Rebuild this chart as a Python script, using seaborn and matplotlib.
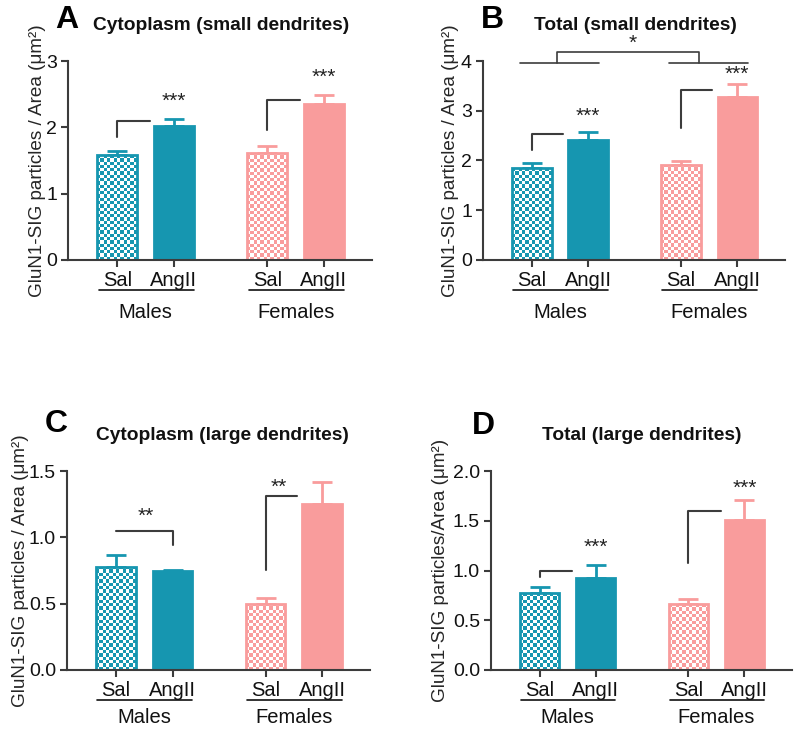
import numpy as np
import pandas as pd
import matplotlib
matplotlib.use("Agg")
import matplotlib.pyplot as plt
import seaborn as sns
from matplotlib.colors import ListedColormap
from matplotlib.transforms import blended_transform_factory

# ---------------- data ----------------
sexes = ["Males", "Females"]
treatments = ["Sal", "AngII"]
letters = ["A", "B", "C", "D"]
titles = ["Cytoplasm (small dendrites)", "Total (small dendrites)",
          "Cytoplasm (large dendrites)", "Total (large dendrites)"]
ylabels = ["GluN1-SIG particles / Area (\u03bcm\u00b2)",
           "GluN1-SIG particles / Area (\u03bcm\u00b2)",
           "GluN1-SIG particles / Area (\u03bcm\u00b2)",
           "GluN1-SIG particles/Area (\u03bcm\u00b2)"]

# order: Males-Sal, Males-AngII, Females-Sal, Females-AngII
a_mean = [1.58, 2.02, 1.62, 2.35]
a_sem = [0.07, 0.11, 0.10, 0.13]
b_mean = [1.84, 2.41, 1.91, 3.28]
b_sem = [0.10, 0.17, 0.08, 0.25]
c_mean = [0.78, 0.75, 0.50, 1.25]
c_sem = [0.09, 0.006, 0.04, 0.17]
d_mean = [0.77, 0.92, 0.66, 1.51]
d_sem = [0.06, 0.14, 0.05, 0.20]

a_ticks = [0, 1, 2, 3]
b_ticks = [0, 1, 2, 3, 4]
c_ticks = [0.0, 0.5, 1.0, 1.5]
d_ticks = [0.0, 0.5, 1.0, 1.5, 2.0]

# significance annotations: (group, x offsets, y values, star text, star x offset, star y)
a_sig = [(0, [0, 0, 0.58], [1.86, 2.10, 2.10], "***", 1.0, 2.39),
         (1, [0, 0, 0.58], [1.96, 2.41, 2.41], "***", 1.0, 2.75)]
b_sig = [(0, [0, 0, 0.55], [2.21, 2.53, 2.53], "***", 1.0, 2.88),
         (1, [0, 0, 0.55], [2.66, 3.41, 3.41], "***", 1.0, 3.74)]
c_sig = [(0, [0, 1, 1], [1.05, 1.05, 0.94], "**", 0.53, 1.16),
         (1, [0, 0, 0.56], [0.755, 1.31, 1.31], "**", 0.23, 1.38)]
d_sig = [(0, [0, 0, 0.58], [0.93, 1.00, 1.00], "***", 1.0, 1.23),
         (1, [0, 0, 0.59], [1.08, 1.60, 1.60], "***", 1.0, 1.83)]
# sex main-effect bracket in panel B
b_top_y = [3.95, 4.19]

# ---------------- style ----------------
sns.set_style("ticks")
plt.rcParams["font.family"] = ["Liberation Sans", "DejaVu Sans"]
TEAL = "#1696B0"
PINK = "#F99C9C"
AXC = "#3c3c3c"
GAP = 2.65
palette = {"Males": TEAL, "Females": PINK}

fig = plt.figure(figsize=(8, 7.35), dpi=100)
W, H = 800, 735

def ax_rect(left, right, top, bottom):
    return [left / W, 1 - bottom / H, (right - left) / W, (bottom - top) / H]

rects = [ax_rect(68, 372, 61, 260), ax_rect(483, 785, 61, 260),
         ax_rect(67, 370, 471, 670), ax_rect(491, 792, 471, 670)]
means = [a_mean, b_mean, c_mean, d_mean]
sems = [a_sem, b_sem, c_sem, d_sem]
ticks = [a_ticks, b_ticks, c_ticks, d_ticks]
sigs = [a_sig, b_sig, c_sig, d_sig]
ylab_x = [-0.099, -0.109, -0.155, -0.168]
grp_lab_y = [-0.266, -0.266, -0.241, -0.241]
title_pos = [(221, 26), (635, 26), (222, 435), (642, 435)]
letter_pos = [(67, 20), (492, 20), (56, 424), (483, 426)]

positions = [g * GAP + t for g in range(2) for t in range(2)]
sex_col = [s for s in sexes for _ in treatments]
treat_col = [t for _ in sexes for t in treatments]

cell_px = 3.3

for k in range(4):
    ax = fig.add_axes(rects[k])
    df = pd.DataFrame({"pos": positions, "mean": means[k], "sem": sems[k],
                       "sex": sex_col, "treat": treat_col})
    sns.barplot(data=df, x="pos", y="mean", hue="sex", hue_order=sexes,
                palette=palette, native_scale=True, width=0.7, errorbar=None,
                saturation=1, legend=False, ax=ax)
    ymax = ticks[k][-1]
    ax.set_xlim(-0.87, 4.5)
    ax.set_ylim(0, ymax)

    for i, row in df.iterrows():
        col = palette[row["sex"]]
        ax.errorbar([row["pos"]], [row["mean"]], yerr=[[0], [row["sem"]]],
                    fmt="none", ecolor=col, elinewidth=2, capsize=7,
                    capthick=2, zorder=0.8, clip_on=False)

    for p in ax.patches:
        cx = p.get_x() + p.get_width() / 2
        idx = int(np.argmin([abs(cx - q) for q in positions]))
        col = palette[sex_col[idx]]
        p.set_edgecolor(col)
        p.set_linewidth(2)
        if treat_col[idx] == "Sal":
            x0, w, h = p.get_x(), p.get_width(), p.get_height()
            (px0, py0) = ax.transData.transform((x0, 0))
            (px1, py1) = ax.transData.transform((x0 + w, h))
            ncol = max(1, int(round((px1 - px0) / cell_px)))
            nrow = max(1, int(round((py1 - py0) / cell_px)))
            arr = np.indices((nrow, ncol)).sum(axis=0) % 2
            im = ax.imshow(arr, cmap=ListedColormap(["white", col]),
                           extent=(x0, x0 + w, 0, h), origin="lower",
                           aspect="auto", interpolation="nearest",
                           zorder=p.get_zorder() - 0.05)
            im.set_clip_path(p)
            p.set_facecolor("none")
            p.set_zorder(p.get_zorder() + 0.1)
    ax.set_xlim(-0.87, 4.5)
    ax.set_ylim(0, ymax)

    # significance marks
    for g, xs, ys, txt, sx, sy in sigs[k]:
        ax.plot([g * GAP + x for x in xs], ys, color=AXC, lw=1.5,
                clip_on=False, zorder=3)
        ax.text(g * GAP + sx, sy, txt, ha="center", va="center",
                fontsize=15, color="#222222")
    if k == 1:
        ax.plot([-0.21, 1.2], [b_top_y[0]] * 2, color=AXC, lw=1.2, clip_on=False)
        ax.plot([GAP - 0.21, GAP + 1.2], [b_top_y[0]] * 2, color=AXC, lw=1.2, clip_on=False)
        ax.plot([0.45, 0.45, GAP + 0.32, GAP + 0.32],
                [b_top_y[0], b_top_y[1], b_top_y[1], b_top_y[0]],
                color=AXC, lw=1.2, clip_on=False)
        ax.text(1.79, 4.36, "*", ha="center", va="center", fontsize=15,
                color="#222222")

    # axes styling
    ax.set_xticks(positions)
    ax.set_xticklabels(treat_col, fontsize=14.5)
    ax.set_yticks(ticks[k])
    if isinstance(ticks[k][1], float):
        ax.set_yticklabels([f"{t:.1f}" for t in ticks[k]], fontsize=14)
    else:
        ax.set_yticklabels([str(t) for t in ticks[k]], fontsize=14)
    ax.set_xlabel("")
    ax.set_ylabel(ylabels[k], fontsize=13.6, va="center")
    ax.yaxis.set_label_coords(ylab_x[k], 0.5)
    sns.despine(ax=ax)
    for s in ["left", "bottom"]:
        ax.spines[s].set_color(AXC)
        ax.spines[s].set_linewidth(1.5)
    ax.tick_params(axis="both", direction="out", length=5, width=1.5,
                   color=AXC, pad=3, labelcolor="#111111")

    # group underlines and labels
    tr = blended_transform_factory(ax.transData, ax.transAxes)
    for g, sex in enumerate(sexes):
        ax.plot([g * GAP - 0.33, g * GAP + 1.35], [-0.151, -0.151],
                color="#111111", lw=1.2, transform=tr, clip_on=False)
        ax.text(g * GAP + 0.5, grp_lab_y[k], sex, transform=tr,
                ha="center", va="center", fontsize=14.5, color="#111111")

    fig.text(title_pos[k][0] / W, 1 - title_pos[k][1] / H, titles[k],
             ha="center", va="center", fontsize=13.8, fontweight="bold",
             color="#111111")
    fig.text(letter_pos[k][0] / W, 1 - letter_pos[k][1] / H, letters[k],
             ha="center", va="center", fontsize=23, fontweight="bold",
             color="#000000")

fig.savefig("out.png", dpi=100)
